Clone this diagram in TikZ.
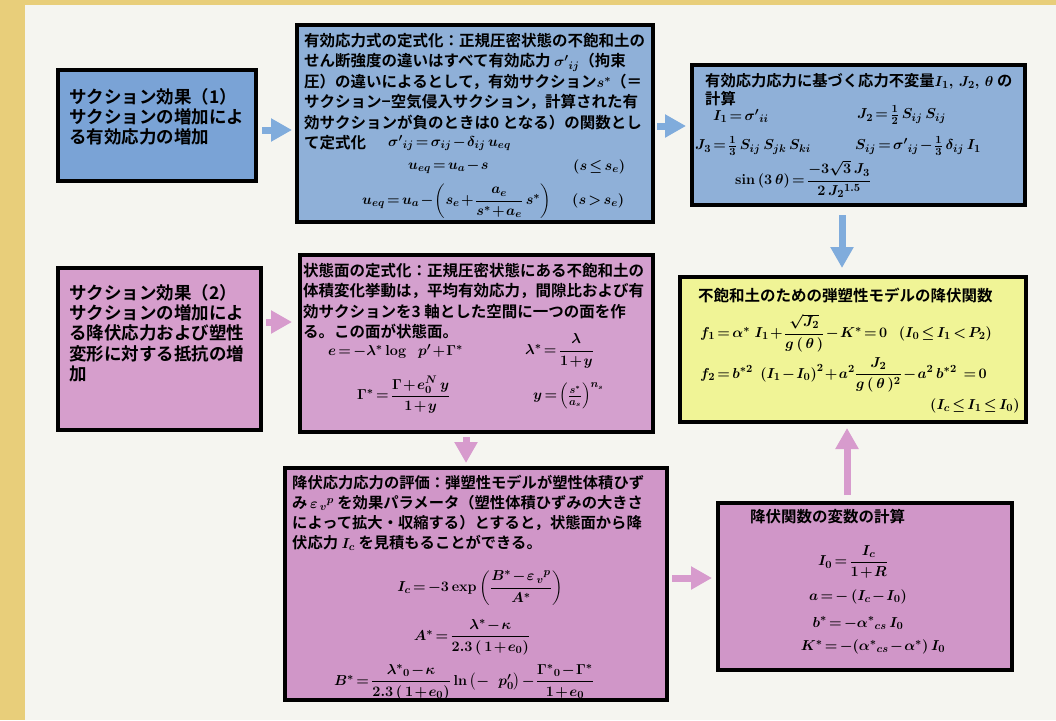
\documentclass[tikz,border=0pt]{standalone}
\usepackage{amsmath}
\usepackage[no-math]{fontspec}
\newfontfamily\jp{Noto Sans CJK JP}[BoldFont={Noto Sans CJK JP Bold}]
\usetikzlibrary{arrows.meta}
\definecolor{bgtan}{HTML}{E8CE7A}
\definecolor{bgwhite}{HTML}{F5F5F0}
\definecolor{blueA}{HTML}{7AA3D6}
\definecolor{blueB}{HTML}{8FB0D8}
\definecolor{pinkA}{HTML}{D69ECC}
\definecolor{pinkB}{HTML}{D4A0CE}
\definecolor{pinkC}{HTML}{D096C8}
\definecolor{yellowA}{HTML}{F0F496}
\definecolor{arrblue}{HTML}{80ACDC}
\definecolor{arrpink}{HTML}{D79BCD}
\newcommand\tightmath{\thickmuskip=2.5mu plus 2mu\medmuskip=1.5mu plus 1mu}
\tikzset{
  box/.style={draw=black, line width=3.2pt, anchor=north west, inner sep=0pt, outer sep=0pt},
  jtext/.style={anchor=north west, inner sep=0pt, align=left, font=\jp\bfseries\boldmath\tightmath\fontsize{15.5}{20.4}\selectfont},
  jbig/.style={anchor=north west, inner sep=0pt, align=left, font=\jp\bfseries\fontsize{17.5}{20.3}\selectfont},
  fm/.style={inner sep=0pt, font=\boldmath\tightmath\fontsize{15}{18}\selectfont},
  barrow/.style={draw=arrblue, line width=7pt, -{Triangle[length=21pt,width=22pt]}},
  parrow/.style={draw=arrpink, line width=7pt, -{Triangle[length=21pt,width=22pt]}},
}
\begin{document}
\boldmath
\begin{tikzpicture}[x=1pt,y=-1pt]
\useasboundingbox (0,0) rectangle (1056,720);
\fill[bgtan] (0,0) rectangle (1056,720);
\fill[bgwhite] (25,5) rectangle (1056,720);

% boxes
\node[box, fill=blueA, minimum width=198pt, minimum height=111pt] (b1) at (58,70) {};
\node[box, fill=blueB, minimum width=356pt, minimum height=197pt] (b2) at (297,25) {};
\node[box, fill=blueB, minimum width=333pt, minimum height=140pt] (b3) at (692,65) {};
\node[box, fill=pinkA, minimum width=203pt, minimum height=162pt] (b4) at (58,268) {};
\node[box, fill=pinkB, minimum width=353pt, minimum height=177pt] (b5) at (300,255) {};
\node[box, fill=yellowA, minimum width=346pt, minimum height=145pt] (b6) at (680,277) {};
\node[box, fill=pinkC, minimum width=382pt, minimum height=232pt] (b7) at (285,468) {};
\node[box, fill=pinkC, minimum width=294pt, minimum height=167pt] (b8) at (718,503) {};

% box 1
\node[jbig] (t1) at (69,88) {サクション効果（1）\\サクションの増加によ\\る有効応力の増加};

% box 4
\node[jbig] (t4) at (69,284) {サクション効果（2）\\サクションの増加によ\\る降伏応力および塑性\\変形に対する抵抗の増\\加};

% box 2
\node[jtext] (t2) at (304,33) {有効応力式の定式化：正規圧密状態の不飽和土の\\
せん断強度の違いはすべて有効応力 $\sigma'{}_{ij}$（拘束\\
圧）の違いによるとして，有効サクション$s^*$（＝\\
サクション−空気侵入サクション，計算された有\\
効サクションが負のときは0 となる）の関数とし\\
て定式化};
\node[fm, anchor=west] (f2a) at (388,143) {$\sigma'{}_{ij}=\sigma_{ij}-\delta_{ij}\,u_{eq}$};
\node[fm, anchor=west] (f2b) at (408,167) {$u_{eq}=u_a-s$};
\node[fm, anchor=west] (f2c) at (573,167) {$\left(s\le s_e\right)$};
\node[fm, anchor=west] (f2d) at (362,201) {$u_{eq}=u_a-\left(s_e+\dfrac{a_e}{s^*+a_e}\,s^*\right)$};
\node[fm, anchor=west] (f2e) at (572,201) {$\left(s>s_e\right)$};

% box 3
\node[jtext, font=\jp\bfseries\boldmath\tightmath\fontsize{15.3}{18}\selectfont] (t3) at (705,73) {有効応力応力に基づく応力不変量$I_1,\,J_2,\,\theta$ の\\計算};
\node[fm, anchor=west] (f3a) at (713,116) {$I_1=\sigma'{}_{ii}$};
\node[fm, anchor=west] (f3b) at (857,115) {$J_2=\frac{1}{2}\,S_{ij}\,S_{ij}$};
\node[fm, anchor=west] (f3c) at (695,146) {$J_3=\frac{1}{3}\,S_{ij}\,S_{jk}\,S_{ki}$};
\node[fm, anchor=west] (f3d) at (855,146) {$S_{ij}=\sigma'{}_{ij}-\frac{1}{3}\,\delta_{ij}\,I_1$};
\node[fm, anchor=west] (f3e) at (735,179) {$\sin\left(3\,\theta\right)=\dfrac{-3\sqrt{3}\,J_3}{2\,J_2{}^{1.5}}$};

% box 5
\node[jtext, font=\jp\bfseries\boldmath\tightmath\fontsize{15.5}{20.3}\selectfont] (t5) at (303,263) {状態面の定式化：正規圧密状態にある不飽和土の\\
体積変化挙動は，平均有効応力，間隙比および有\\
効サクションを3 軸とした空間に一つの面を作\\
る。この面が状態面。};
\node[fm, anchor=west] (f5a) at (328,351) {$e=-\lambda^*\log\ \ p'+\Gamma^*$};
\node[fm, anchor=west] (f5b) at (525,351) {$\lambda^*=\dfrac{\lambda}{1+y}$};
\node[fm, anchor=west] (f5c) at (357,395) {$\Gamma^*=\dfrac{\Gamma+e_0^N\,y}{1+y}$};
\node[fm, anchor=west] (f5d) at (533,396) {$y=\left(\frac{s^*}{a_s}\right)^{n_s}$};

% box 6
\node[jtext, anchor=west] (t6) at (698,295) {不飽和土のための弾塑性モデルの降伏関数};
\node[fm, anchor=west] (f6a) at (700,333) {$f_1=\alpha^*\ I_1+\dfrac{\sqrt{J_2}}{g\,(\,\theta\,)}-K^*=0\ \ \left(I_0\le I_1<P_2\right)$};
\node[fm, anchor=west] (f6b) at (700,375) {$f_2=b^{*2}\ \left(I_1-I_0\right)^2+a^2\dfrac{J_2}{g\,(\,\theta\,)^2}-a^2\,b^{*2}\ =0$};
\node[fm, anchor=west] (f6c) at (930,406) {$\left(I_c\le I_1\le I_0\right)$};

% box 7
\node[jtext, font=\jp\bfseries\boldmath\tightmath\fontsize{15.3}{20}\selectfont] (t7) at (292,475) {降伏応力応力の評価：弾塑性モデルが塑性体積ひず\\
み\,$\varepsilon_{\,v}{}^p$ を効果パラメータ（塑性体積ひずみの大きさ\\
によって拡大・収縮する）とすると，状態面から降\\
伏応力 $I_c$ を見積もることができる。};
\node[fm] (f7a) at (480,588) {$I_c=-3\exp\left(\dfrac{B^*-\varepsilon_{\,v}{}^p}{A^*}\right)$};
\node[fm] (f7b) at (472,637) {$A^*=\dfrac{\lambda^*-\kappa}{2.3\,(\,1+e_0)}$};
\node[fm] (f7c) at (464,682) {$B^*=\dfrac{\lambda^*{}_0-\kappa}{2.3\,(\,1+e_0)}\ln\left(-\ \ p'_0\right)-\dfrac{\Gamma^*{}_0-\Gamma^*}{1+e_0}$};

% box 8
\node[jtext, anchor=west] (t8) at (750,517) {降伏関数の変数の計算};
\node[fm] (f8a) at (853,562) {$I_0=\dfrac{I_c}{1+R}$};
\node[fm] (f8b) at (858,597) {$a=-\left(I_c-I_0\right)$};
\node[fm] (f8c) at (858,623) {$b^*=-\alpha^*{}_{cs}\,I_0$};
\node[fm] (f8d) at (873,647) {$K^*=-(\alpha^*{}_{cs}-\alpha^*)\,I_0$};

% arrows
\coordinate (y1) at (0,130);
\coordinate (y2) at (0,126);
\coordinate (x3) at (842,0);
\coordinate (y4) at (0,322);
\coordinate (x5) at (466,0);
\coordinate (y6) at (0,578);
\coordinate (x7) at (847,0);
\draw[barrow, shorten <=6pt, shorten >=5pt] (b1.east |- y1) -- (b2.west |- y1);
\draw[barrow, shorten <=4pt, shorten >=6pt] (b2.east |- y2) -- (b3.west |- y2);
\draw[barrow, shorten <=10pt, shorten >=9pt] (b3.south -| x3) -- (b6.north -| x3);
\draw[parrow, shorten <=5pt, shorten >=8pt] (b4.east |- y4) -- (b5.west |- y4);
\draw[parrow, shorten <=5pt, shorten >=5pt] (b5.south -| x5) -- (b7.north -| x5);
\draw[parrow, shorten <=5pt, shorten >=6pt] (b7.east |- y6) -- (b8.west |- y6);
\draw[parrow, shorten <=8pt, shorten >=6pt] (b8.north -| x7) -- (b6.south -| x7);
\end{tikzpicture}
\end{document}
